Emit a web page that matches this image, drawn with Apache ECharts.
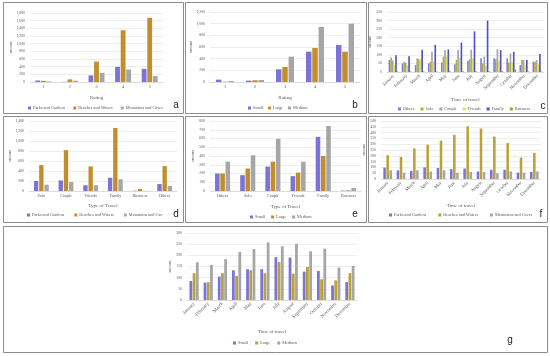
<!DOCTYPE html>
<html><head><meta charset="utf-8">
<script src="https://cdn.jsdelivr.net/npm/echarts@6/dist/echarts.min.js"></script>
<style>html,body{margin:0;padding:0;background:#fff}#c{width:550px;height:356px}</style>
</head><body><div id="c"></div>
<script>
const ratings = ['1','2','3','4','5'];
const months = ['January','February','March','April','May','June','July','August','September','October','November','December'];
const typesD = ['Solo','Couple','Friends','Family','Business','Others'];
const typesE = ['Others','Solo','Couple','Friends','Family','Business'];

// a: rating by place type
const aParks = [40, 5, 172, 395, 344];
const aBeaches = [32, 68, 532, 1350, 1675];
const aMount = [17, 33, 240, 325, 155];
// b: rating by group size
const bSmall = [40, 23, 217, 520, 634];
const bLarge = [6, 29, 257, 583, 520];
const bMedium = [17, 34, 434, 943, 1000];
// c: month by travel type
const cOthers = [70, 50, 40, 50, 55, 45, 65, 80, 80, 80, 40, 60];
const cSolo = [85, 60, 80, 60, 90, 70, 75, 50, 75, 55, 72, 60];
const cCouple = [68, 55, 75, 120, 128, 130, 130, 90, 133, 108, 70, 70];
const cFriends = [40, 42, 75, 60, 90, 85, 80, 35, 65, 55, 40, 45];
const cFamily = [97, 92, 130, 158, 132, 172, 237, 300, 127, 118, 70, 105];
const cBusiness = [3, 3, 3, 3, 5, 5, 5, 5, 5, 15, 3, 3];
// d: travel type by place type
const dParks = [199, 212, 115, 265, 5, 140];
const dBeaches = [518, 816, 491, 1261, 40, 498];
const dMount = [126, 179, 115, 235, 3, 100];
// e: travel type by group size
const eSmall = [200, 181, 279, 170, 619, 5];
const eLarge = [200, 257, 336, 210, 400, 8];
const eMedium = [336, 408, 596, 335, 743, 35];
// f: month by place type
const fParks = [99, 75, 70, 100, 95, 85, 90, 65, 80, 80, 55, 60];
const fBeaches = [205, 190, 264, 295, 330, 381, 455, 435, 365, 310, 185, 225];
const fMount = [75, 55, 75, 65, 75, 55, 60, 60, 50, 65, 55, 65];
// g: month by group size
const gSmall = [85, 78, 105, 133, 138, 138, 192, 190, 127, 130, 65, 80];
const gLarge = [120, 80, 120, 108, 133, 120, 170, 118, 148, 93, 88, 120];
const gMedium = [169, 157, 183, 215, 228, 258, 240, 252, 218, 230, 145, 153];

const PURPLE = '#7b74d6', GOLD = '#c38d2c', OLIVE = '#b9a236', GRAY = '#a6a6a6';
const FONT = 'Liberation Serif';
const TXT = '#595959';

const grids = [
  {left:30, top:13, width:133, height:69},    // a
  {left:210, top:12, width:150, height:70},   // b
  {left:387, top:12, width:157, height:60},   // c
  {left:29, top:121, width:148, height:70},   // d
  {left:210, top:121, width:151, height:70},  // e
  {left:381, top:121, width:160, height:58},  // f
  {left:187, top:233, width:170, height:67}   // g
];
const xCats = [ratings, ratings, months, typesD, typesE, months, months];
const xNames = ['Rating','Rating','Time of travel','Type of Travel','Type of Travel','Time of travel','Time of travel'];
const xGaps = [13, 13, 25, 12, 13, 24, 29];
const rot = [0,0,45,0,0,45,45];
const xFs = [4.2,4.2,4.6,4.2,4.2,4.6,4.8];
const yMax = [1800, 1200, 350, 1400, 800, 500, 300];
const yInt = [200, 200, 50, 200, 100, 50, 50];

const xAxis = xCats.map((c,i)=>({
  type:'category', gridIndex:i, data:c,
  name:xNames[i], nameLocation:'middle', nameGap:xGaps[i],
  nameTextStyle:{fontFamily:FONT, fontSize:5, color:TXT},
  axisLine:{lineStyle:{color:'#d0d0d0', width:0.6}},
  axisTick:{show:false},
  axisLabel:{fontFamily:FONT, fontSize:xFs[i], color:TXT, rotate:rot[i], margin:3, interval:0}
}));
const yAxis = yMax.map((m,i)=>({
  type:'value', gridIndex:i, min:0, max:m, interval:yInt[i],
  name:'amount', nameLocation:'middle', nameRotate:90, nameGap:i===5||i===2?10:12,
  nameTextStyle:{fontFamily:FONT, fontSize:4, color:TXT},
  axisLine:{show:false}, axisTick:{show:false},
  axisLabel:{fontFamily:FONT, fontSize:3.8, color:TXT, margin:5, formatter:'{value}'},
  splitLine:{lineStyle:{color:'#e3e3e3', width:0.6}}
}));

function bar(name, data, idx, color, cg, bg){
  return {type:'bar', name, data, xAxisIndex:idx, yAxisIndex:idx,
    itemStyle:{color}, barCategoryGap:cg, barGap:bg, silent:true, animation:false};
}
const series = [
  bar('Parks and Gardens', aParks, 0, PURPLE, '40%', '15%'),
  bar('Beaches and Waters', aBeaches, 0, GOLD, '40%', '15%'),
  bar('Mountains and Caves', aMount, 0, GRAY, '40%', '15%'),
  bar('Small', bSmall, 1, PURPLE, '40%', '15%'),
  bar('Large', bLarge, 1, GOLD, '40%', '15%'),
  bar('Medium', bMedium, 1, GRAY, '40%', '15%'),
  bar('Others', cOthers, 2, '#7d7fd8', '25%', '0%'),
  bar('Solo', cSolo, 2, '#b5a93a', '25%', '0%'),
  bar('Couple', cCouple, 2, '#a5a5a5', '25%', '0%'),
  bar('Friends', cFriends, 2, '#e2e24a', '25%', '0%'),
  bar('Family', cFamily, 2, '#5050c8', '25%', '0%'),
  bar('Business', cBusiness, 2, '#8fa33a', '25%', '0%'),
  bar('Parks and Gardens ', dParks, 3, PURPLE, '40%', '20%'),
  bar('Beaches and Waters ', dBeaches, 3, GOLD, '40%', '20%'),
  bar('Mountains and Cav', dMount, 3, GRAY, '40%', '20%'),
  bar('Small ', eSmall, 4, PURPLE, '40%', '15%'),
  bar('Large ', eLarge, 4, GOLD, '40%', '15%'),
  bar('Medium ', eMedium, 4, GRAY, '40%', '15%'),
  bar('Parks and Gardens  ', fParks, 5, PURPLE, '35%', '20%'),
  bar('Beaches and Waters  ', fBeaches, 5, OLIVE, '35%', '20%'),
  bar('Mountains and Caves  ', fMount, 5, GRAY, '35%', '20%'),
  bar('Small  ', gSmall, 6, PURPLE, '35%', '15%'),
  bar('Large  ', gLarge, 6, OLIVE, '35%', '15%'),
  bar('Medium  ', gMedium, 6, GRAY, '35%', '15%')
];

function leg(names, left, top, gap){
  return {left, top, itemWidth:3, itemHeight:3, itemGap:gap, icon:'rect', selectedMode:false,
    textStyle:{fontFamily:FONT, fontSize:4.3, color:TXT, padding:[0,0,0,-3]},
    data:names.map(n=>({name:n, itemStyle:{}})), padding:0};
}
const legend = [
  leg(['Parks and Gardens','Beaches and Waters','Mountains and Caves'], 28, 106, 8),
  leg(['Small','Large','Medium'], 248, 106, 5),
  leg(['Others','Solo','Couple','Friends','Family','Business'], 398, 107, 6),
  leg(['Parks and Gardens ','Beaches and Waters ','Mountains and Cav'], 27, 213, 9),
  leg(['Small ','Large ','Medium '], 250, 215, 5),
  leg(['Parks and Gardens  ','Beaches and Waters  ','Mountains and Caves  '], 389, 213, 10),
  leg(['Small  ','Large  ','Medium  '], 233, 341, 5)
];

function box(x,y,w,h){return {type:'rect', shape:{x,y,width:w,height:h}, style:{fill:'none', stroke:'#8c8c8c', lineWidth:1}, silent:true};}
function letter(t,x,y){return {type:'text', x, y, style:{text:t, font:'10px "Liberation Sans"', fill:'#222', textAlign:'center', textVerticalAlign:'middle'}, silent:true};}
const graphic = [
  box(3.5,2.5,180,111), box(185.5,2.5,181,111), box(368.5,2.5,179,111),
  box(3.5,116.5,180,106), box(185.5,116.5,181,106), box(368.5,116.5,179,106),
  box(3.5,226.5,544,126),
  letter('a',176,105), letter('b',355,105), letter('c',543,106),
  letter('d',176,214), letter('e',355,214), letter('f',541,214), letter('g',510,340)
];

const chart = echarts.init(document.getElementById('c'), null, {renderer:'canvas'});
chart.setOption({animation:false, grid:grids, xAxis, yAxis, series, legend, graphic,
  textStyle:{fontFamily:FONT}});
</script></body></html>
